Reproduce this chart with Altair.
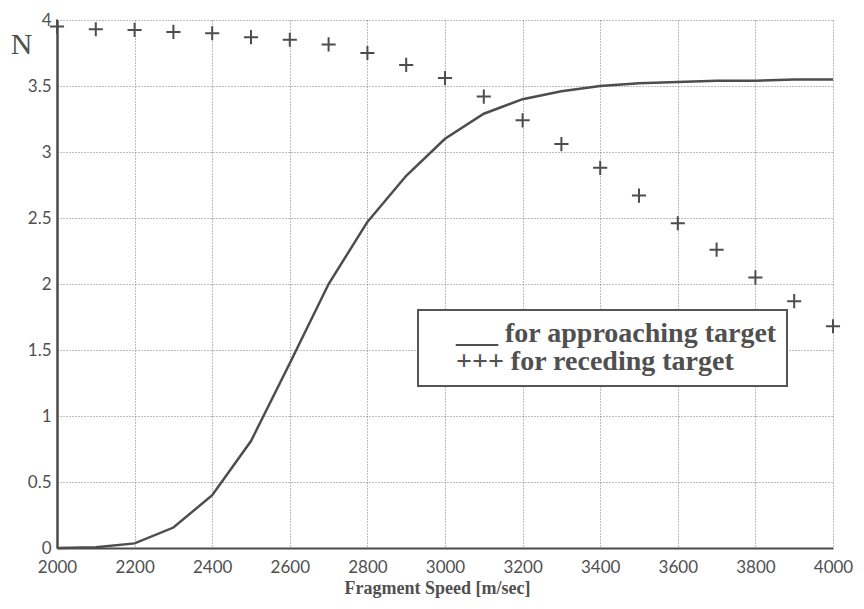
import altair as alt
import pandas as pd

# ---- data ----
speed = [2000, 2100, 2200, 2300, 2400, 2500, 2600, 2700, 2800, 2900, 3000,
         3100, 3200, 3300, 3400, 3500, 3600, 3700, 3800, 3900, 4000]
approaching = [0.0, 0.005, 0.035, 0.155, 0.40, 0.81, 1.40, 2.00, 2.47, 2.82, 3.10,
               3.29, 3.40, 3.46, 3.50, 3.52, 3.53, 3.54, 3.54, 3.55, 3.55]
receding = [3.95, 3.93, 3.925, 3.91, 3.90, 3.87, 3.85, 3.815, 3.75, 3.66, 3.56,
            3.42, 3.24, 3.06, 2.88, 2.67, 2.46, 2.26, 2.05, 1.87, 1.68]
series_names = ["___ for approaching target", "+++ for receding target"]
x_ticks = [2000, 2200, 2400, 2600, 2800, 3000, 3200, 3400, 3600, 3800, 4000]
y_ticks = [0, 0.5, 1, 1.5, 2, 2.5, 3, 3.5, 4]

df_a = pd.DataFrame({"speed": speed, "N": approaching, "series": series_names[0]})
df_r = pd.DataFrame({"speed": speed, "N": receding, "series": series_names[1]})

INK = "#4d4d4d"
TEXT = "#505050"

x = alt.X(
    "speed:Q",
    scale=alt.Scale(domain=[2000, 4000], nice=False),
    axis=alt.Axis(
        values=x_ticks, format="d", title="Fragment Speed [m/sec]",
        grid=True, gridDash=[1, 2], gridColor="#7a7a7a", gridWidth=1,
        domainColor="#4a4a4a", domainWidth=2, ticks=False, labelFlush=False,
        labelFont="Lato", labelFontSize=17, labelColor=TEXT, labelPadding=11,
        titleFont="Liberation Serif", titleFontSize=18, titleFontWeight="bold",
        titleColor=TEXT, titleX=380, titleY=45, titleAlign="center",
        titleBaseline="alphabetic",
    ),
)
y = alt.Y(
    "N:Q",
    scale=alt.Scale(domain=[0, 4], nice=False),
    axis=alt.Axis(
        values=y_ticks, format="~g", title="N",
        grid=True, gridDash=[1, 2], gridColor="#7a7a7a", gridWidth=1,
        domainColor="#4a4a4a", domainWidth=2.5, ticks=False, labelFlush=False,
        labelFont="Lato", labelFontSize=17, labelColor=TEXT, labelPadding=6,
        titleFont="Liberation Serif", titleFontSize=30, titleFontWeight="normal",
        titleColor=TEXT, titleAngle=0, titleX=-36, titleY=33,
        titleAlign="center", titleBaseline="alphabetic",
    ),
)
color_scale = alt.Scale(domain=series_names, range=[INK, INK])
color_line = alt.Color(
    "series:N",
    scale=color_scale,
    legend=alt.Legend(
        title=None, orient="none", legendX=361, legendY=290,
        strokeColor="#555555", fillColor="white", padding=10,
        symbolType="circle", symbolSize=1, symbolOpacity=0, symbolStrokeWidth=0,
        labelOffset=0,
        labelFont="Liberation Serif", labelFontSize=28, labelFontWeight="bold",
        labelColor=TEXT, labelLimit=600, rowPadding=0,
    ),
)
color_pts = alt.Color("series:N", scale=color_scale, legend=None)

line = alt.Chart(df_a).mark_line(strokeWidth=2.5).encode(x=x, y=y, color=color_line)
pts = alt.Chart(df_r).mark_point(
    shape="M-1,0L1,0M0,-1L0,1", size=200, strokeWidth=2, filled=False, opacity=1
).encode(x=x, y=y, color=color_pts)

chart = (
    alt.layer(line, pts)
    .resolve_scale(color="independent")
    .properties(
        width=776, height=528,
        padding={"left": 49, "top": 12, "right": 23, "bottom": 50},
        autosize=alt.AutoSizeParams(type="none"),
        background="white",
    )
    .configure_view(stroke="transparent")
    .configure_legend(strokeWidth=2)
)

chart.save("out.html", embed_options={"renderer": "svg", "actions": False})
